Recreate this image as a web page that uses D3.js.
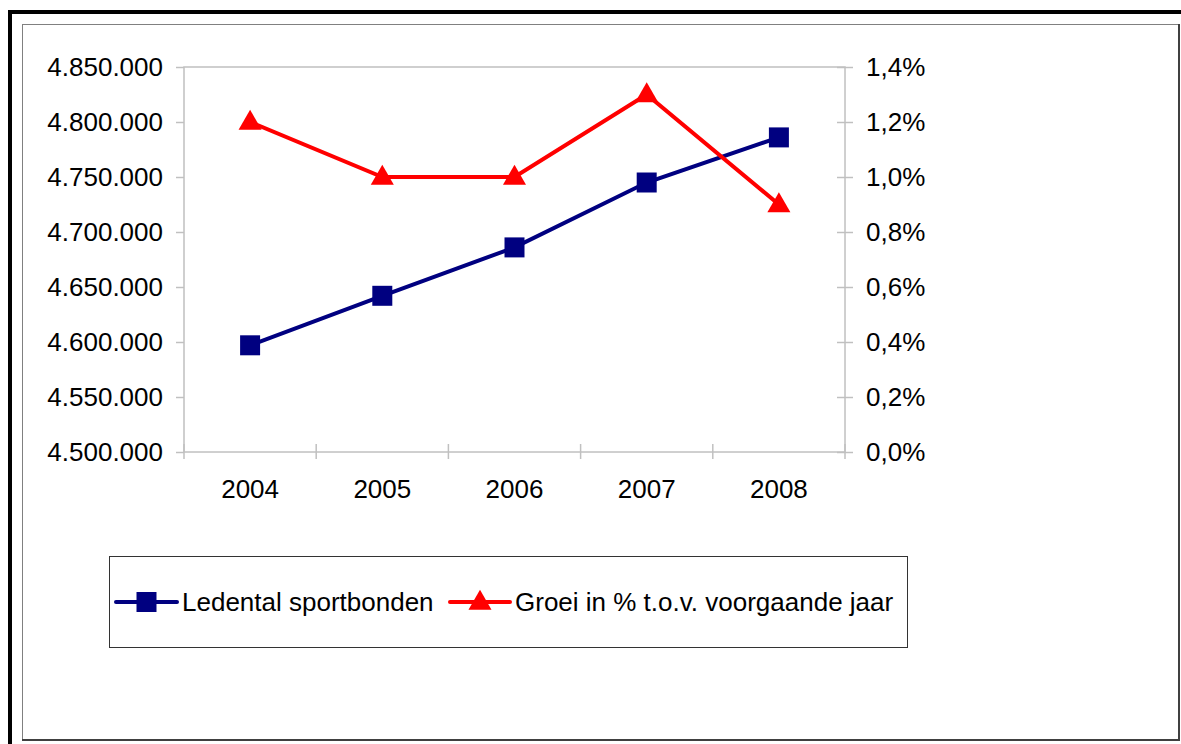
<!DOCTYPE html>
<html>
<head>
<meta charset="utf-8">
<script src="https://cdn.jsdelivr.net/npm/d3@7"></script>
<style>
  body { margin: 0; background: #fff; }
  text { font-family: "Liberation Sans", Arial, sans-serif; fill: #000; }
</style>
</head>
<body>
<div id="chart"></div>
<script>
// Data
const years = ["2004", "2005", "2006", "2007", "2008"]
const leden = [4597000, 4642000, 4686000, 4745000, 4786000]
const groei = [0.012, 0.010, 0.010, 0.013, 0.009]
const leftTicks = [4500000, 4550000, 4600000, 4650000, 4700000, 4750000, 4800000, 4850000]
const rightTicks = [0, 0.002, 0.004, 0.006, 0.008, 0.010, 0.012, 0.014]
const seriesNames = ["Ledental sportbonden", "Groei in % t.o.v. voorgaande jaar"]

const W = 1181, H = 744
const plot = { left: 184, right: 845, top: 67, bottom: 452 }
const axisColor = "#c0c0c0"
const fontSize = 26

const nl = d3.formatLocale({ decimal: ",", thousands: ".", grouping: [3], currency: ["€", ""] })
const fmtLeft = nl.format(",.0f")
const fmtRight = nl.format(".1%")

const svg = d3.select("#chart").append("svg")
    .attr("width", W)
    .attr("height", H)

// frame: thick outer border + thin inner border with shadow
svg.append("rect")
  .attr("x", 10).attr("y", 12)
  .attr("width", W + 20).attr("height", H + 20)
  .attr("fill", "none").attr("stroke", "#000").attr("stroke-width", 4)

svg.append("rect")
  .attr("x", 22.5).attr("y", 24.5)
  .attr("width", 1156).attr("height", 715)
  .attr("fill", "#fff").attr("stroke", "#808080").attr("stroke-width", 1)
svg.append("path")
  .attr("d", `M1179,24 V740 H22`)
  .attr("fill", "none").attr("stroke", "#404040").attr("stroke-width", 2)

// scales
const x = d3.scaleBand().domain(years).range([plot.left, plot.right]).padding(0)
const cx = d => x(d) + x.bandwidth() / 2
const yL = d3.scaleLinear().domain([4500000, 4850000]).range([plot.bottom, plot.top])
const yR = d3.scaleLinear().domain([0, 0.014]).range([plot.bottom, plot.top])

// plot area border
svg.append("rect")
  .attr("x", plot.left).attr("y", plot.top)
  .attr("width", plot.right - plot.left).attr("height", plot.bottom - plot.top)
  .attr("fill", "none").attr("stroke", axisColor).attr("stroke-width", 1.5)

// left axis
const gL = svg.append("g")
  .attr("transform", `translate(${plot.left},0)`)
  .call(d3.axisLeft(yL).tickValues(leftTicks).tickFormat(fmtLeft).tickSize(8).tickPadding(13))
gL.select(".domain").remove()
gL.selectAll("line").attr("stroke", axisColor).attr("stroke-width", 1.5)
gL.selectAll("text").style("font-size", fontSize + "px").attr("font-family", null)

// right axis
const gR = svg.append("g")
  .attr("transform", `translate(${plot.right},0)`)
  .call(d3.axisRight(yR).tickValues(rightTicks).tickFormat(fmtRight).tickSize(8).tickPadding(13))
gR.select(".domain").remove()
gR.selectAll("line").attr("x1", -8).attr("stroke", axisColor).attr("stroke-width", 1.5)
gR.selectAll("text").style("font-size", fontSize + "px").attr("font-family", null)

// bottom axis: tick marks between categories, labels centered
const bounds = years.map(d => x(d)).concat([plot.right])
svg.append("g").selectAll("line")
  .data(bounds)
  .join("line")
  .attr("x1", d => d).attr("x2", d => d)
  .attr("y1", plot.bottom - 8).attr("y2", plot.bottom + 7)
  .attr("stroke", axisColor).attr("stroke-width", 1.5)

svg.append("g").selectAll("text")
  .data(years)
  .join("text")
  .attr("x", d => cx(d))
  .attr("y", 498)
  .attr("text-anchor", "middle")
  .style("font-size", fontSize + "px")
  .text(d => d)

// lines
const navy = "#000080", red = "#ff0000"

svg.append("path")
  .datum(years.map((d, i) => [cx(d), yL(leden[i])]))
  .attr("d", d3.line())
  .attr("fill", "none").attr("stroke", navy).attr("stroke-width", 4)

svg.append("path")
  .datum(years.map((d, i) => [cx(d), yR(groei[i])]))
  .attr("d", d3.line())
  .attr("fill", "none").attr("stroke", red).attr("stroke-width", 4)

const square = d3.symbol().type(d3.symbolSquare).size(400)
const triangle = d3.symbol().type(d3.symbolTriangle).size(230)

svg.append("g").selectAll("path")
  .data(years)
  .join("path")
  .attr("transform", (d, i) => `translate(${cx(d)},${yL(leden[i])})`)
  .attr("d", square)
  .attr("fill", navy)

svg.append("g").selectAll("path")
  .data(years)
  .join("path")
  .attr("transform", (d, i) => `translate(${cx(d)},${yR(groei[i]) + 1})`)
  .attr("d", triangle)
  .attr("fill", red)

// legend
const legend = svg.append("g")
legend.append("rect")
  .attr("x", 109.5).attr("y", 556.5)
  .attr("width", 798).attr("height", 91)
  .attr("fill", "#fff").attr("stroke", "#333").attr("stroke-width", 1)

const legItems = [
  { name: seriesNames[0], color: navy, sym: square, x0: 116, x1: 177, tx: 182 },
  { name: seriesNames[1], color: red, sym: triangle, x0: 450, x1: 510, tx: 515 }
]
const ly = 602
legItems.forEach(it => {
  legend.append("line")
    .attr("x1", it.x0).attr("x2", it.x1).attr("y1", ly).attr("y2", ly)
    .attr("stroke", it.color).attr("stroke-width", 4).attr("stroke-linecap", "round")
  legend.append("path")
    .attr("transform", `translate(${(it.x0 + it.x1) / 2},${ly + (it.sym === triangle ? 1 : 0)})`)
    .attr("d", it.sym)
    .attr("fill", it.color)
  legend.append("text")
    .attr("x", it.tx).attr("y", ly + 9)
    .style("font-size", fontSize + "px")
    .text(it.name)
})
</script>
</body>
</html>
